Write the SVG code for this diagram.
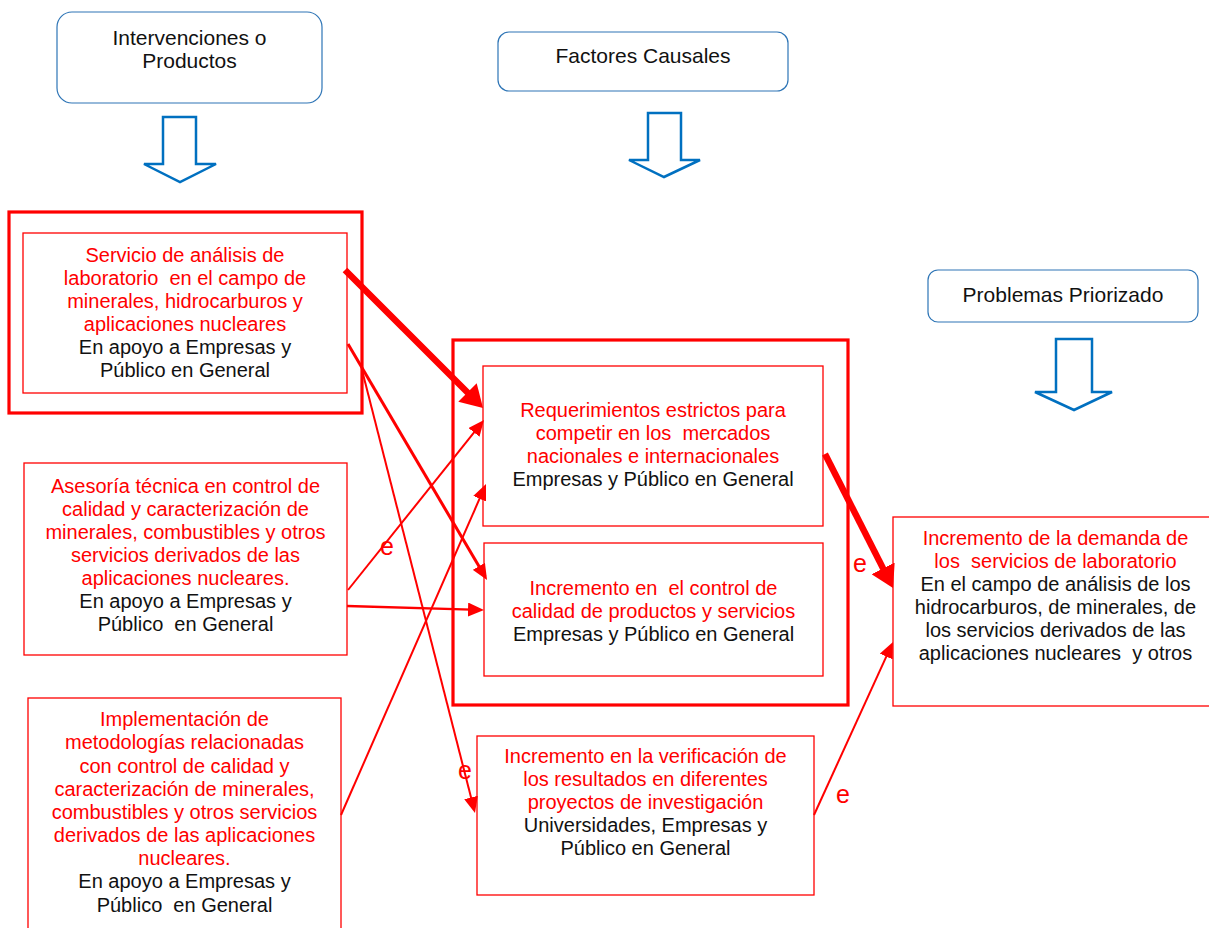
<svg xmlns="http://www.w3.org/2000/svg" width="1209" height="928" viewBox="0 0 1209 928">
<style>
text{font-family:"Liberation Sans",Arial,sans-serif;white-space:pre}
.hdr{fill:#fff;stroke:#2E75B6;stroke-width:1.2}
.ht{font-size:21px;fill:#111;text-anchor:middle}
.blk{fill:#fff;stroke:#0070C0;stroke-width:2.5;stroke-linejoin:miter}
.box{fill:#fff;stroke:#FF0000;stroke-width:1.3}
.outer{fill:none;stroke:#FF0000;stroke-width:3.2}
.t{font-size:20px;text-anchor:middle}
.r{fill:#FF0000}
.k{fill:#111}
.ln{fill:none;stroke:#FF0000;stroke-width:2}
.thk{fill:none;stroke:#FF0000;stroke-width:6.5}
.e{font-size:25px;fill:#FF0000}
</style>
<defs>
<marker id="ah" markerUnits="userSpaceOnUse" markerWidth="16" markerHeight="14" refX="12" refY="7" orient="auto"><path d="M0,0 L16,7 L0,14 z" fill="#FF0000"/></marker>
<marker id="ahb" markerUnits="userSpaceOnUse" markerWidth="22" markerHeight="26" refX="16" refY="13" orient="auto"><path d="M0,0 L22,13 L0,26 z" fill="#FF0000"/></marker>
</defs>

<g id="hdr-intervenciones">
<rect class="hdr" x="57" y="12" width="265" height="91" rx="15"/>
<text class="ht" x="189.5" y="45">Intervenciones o</text>
<text class="ht" x="189.5" y="68">Productos</text>
<polygon class="blk" points="163,117 196,117 196,164 216,164 180,182 144,164 163,164"/>
</g>
<g id="hdr-factores">
<rect class="hdr" x="498" y="32" width="290" height="59" rx="11"/>
<text class="ht" x="643" y="63">Factores Causales</text>
<polygon class="blk" points="648,113 681,113 681,160 700,160 664,177 629,160 648,160"/>
</g>
<g id="hdr-problemas">
<rect class="hdr" x="928" y="270" width="270" height="52" rx="10"/>
<text class="ht" x="1063" y="302">Problemas Priorizado</text>
<polygon class="blk" points="1056,339 1092,339 1092,392 1112,392 1074,410 1035,392 1056,392"/>
</g>

<g id="grp-servicio-outer"><rect class="outer" x="9" y="212" width="353" height="201"/></g>
<g id="grp-factores-outer"><rect class="outer" x="453" y="340" width="395" height="365"/></g>

<g id="n-servicio">
<rect class="box" x="23" y="233" width="324" height="160"/>
<text class="t r" x="185" y="262">Servicio de análisis de</text>
<text class="t r" x="185" y="285">laboratorio  en el campo de</text>
<text class="t r" x="185" y="308">minerales, hidrocarburos y</text>
<text class="t r" x="185" y="331">aplicaciones nucleares</text>
<text class="t k" x="185" y="354">En apoyo a Empresas y</text>
<text class="t k" x="185" y="377">Público en General</text>
</g>

<g id="n-asesoria">
<rect class="box" x="24" y="463" width="323" height="192"/>
<text class="t r" x="185.5" y="493">Asesoría técnica en control de</text>
<text class="t r" x="185.5" y="516">calidad y caracterización de</text>
<text class="t r" x="185.5" y="539">minerales, combustibles y otros</text>
<text class="t r" x="185.5" y="562">servicios derivados de las</text>
<text class="t r" x="185.5" y="585">aplicaciones nucleares.</text>
<text class="t k" x="185.5" y="608">En apoyo a Empresas y</text>
<text class="t k" x="185.5" y="631">Público  en General</text>
</g>

<g id="n-implementacion">
<rect class="box" x="28" y="698" width="313" height="245"/>
<text class="t r" x="184.5" y="726">Implementación de</text>
<text class="t r" x="184.5" y="749">metodologías relacionadas</text>
<text class="t r" x="184.5" y="772.5">con control de calidad y</text>
<text class="t r" x="184.5" y="796">caracterización de minerales,</text>
<text class="t r" x="184.5" y="819">combustibles y otros servicios</text>
<text class="t r" x="184.5" y="842">derivados de las aplicaciones</text>
<text class="t r" x="184.5" y="865">nucleares.</text>
<text class="t k" x="184.5" y="888">En apoyo a Empresas y</text>
<text class="t k" x="184.5" y="911.5">Público  en General</text>
</g>

<g id="n-requerimientos">
<rect class="box" x="483" y="366" width="340" height="160"/>
<text class="t r" x="653" y="417">Requerimientos estrictos para</text>
<text class="t r" x="653" y="440">competir en los  mercados</text>
<text class="t r" x="653" y="463">nacionales e internacionales</text>
<text class="t k" x="653" y="486">Empresas y Público en General</text>
</g>

<g id="n-control">
<rect class="box" x="484" y="543" width="339" height="133"/>
<text class="t r" x="653.5" y="595">Incremento en  el control de</text>
<text class="t r" x="653.5" y="618">calidad de productos y servicios</text>
<text class="t k" x="653.5" y="641">Empresas y Público en General</text>
</g>

<g id="n-verificacion">
<rect class="box" x="477" y="736" width="337" height="159"/>
<text class="t r" x="645.5" y="763">Incremento en la verificación de</text>
<text class="t r" x="645.5" y="786">los resultados en diferentes</text>
<text class="t r" x="645.5" y="809">proyectos de investigación</text>
<text class="t k" x="645.5" y="832">Universidades, Empresas y</text>
<text class="t k" x="645.5" y="855">Público en General</text>
</g>

<g id="n-demanda">
<rect class="box" x="893" y="517" width="330" height="189"/>
<text class="t r" x="1055.5" y="545">Incremento de la demanda de</text>
<text class="t r" x="1055.5" y="568">los  servicios de laboratorio</text>
<text class="t k" x="1055.5" y="591">En el campo de análisis de los</text>
<text class="t k" x="1055.5" y="614">hidrocarburos, de minerales, de</text>
<text class="t k" x="1055.5" y="637">los servicios derivados de las</text>
<text class="t k" x="1055.5" y="660">aplicaciones nucleares  y otros</text>
</g>

<g id="connectors">
<path class="thk" d="M345,270 L478.8,403.8" marker-end="url(#ahb)"/>
<path class="thk" d="M825,454 L890.3,582.6" marker-end="url(#ahb)"/>
<path class="ln" style="stroke-width:3" d="M348,344 L485,576.6" marker-end="url(#ah)"/>
<path class="ln" d="M362,370 L474,809.1" marker-end="url(#ah)"/>
<path class="ln" d="M348,590 L481.5,423.1" marker-end="url(#ah)"/>
<path class="ln" style="stroke-width:2.3" d="M347,606 L480,609.9" marker-end="url(#ah)"/>
<path class="ln" d="M341,815 L484.4,487.7" marker-end="url(#ah)"/>
<path class="ln" d="M814,815 L891.3,645.6" marker-end="url(#ah)"/>
<text class="e" x="380" y="555">e</text>
<text class="e" x="853" y="572">e</text>
<text class="e" x="458" y="779">e</text>
<text class="e" x="836" y="803">e</text>
</g>
</svg>
